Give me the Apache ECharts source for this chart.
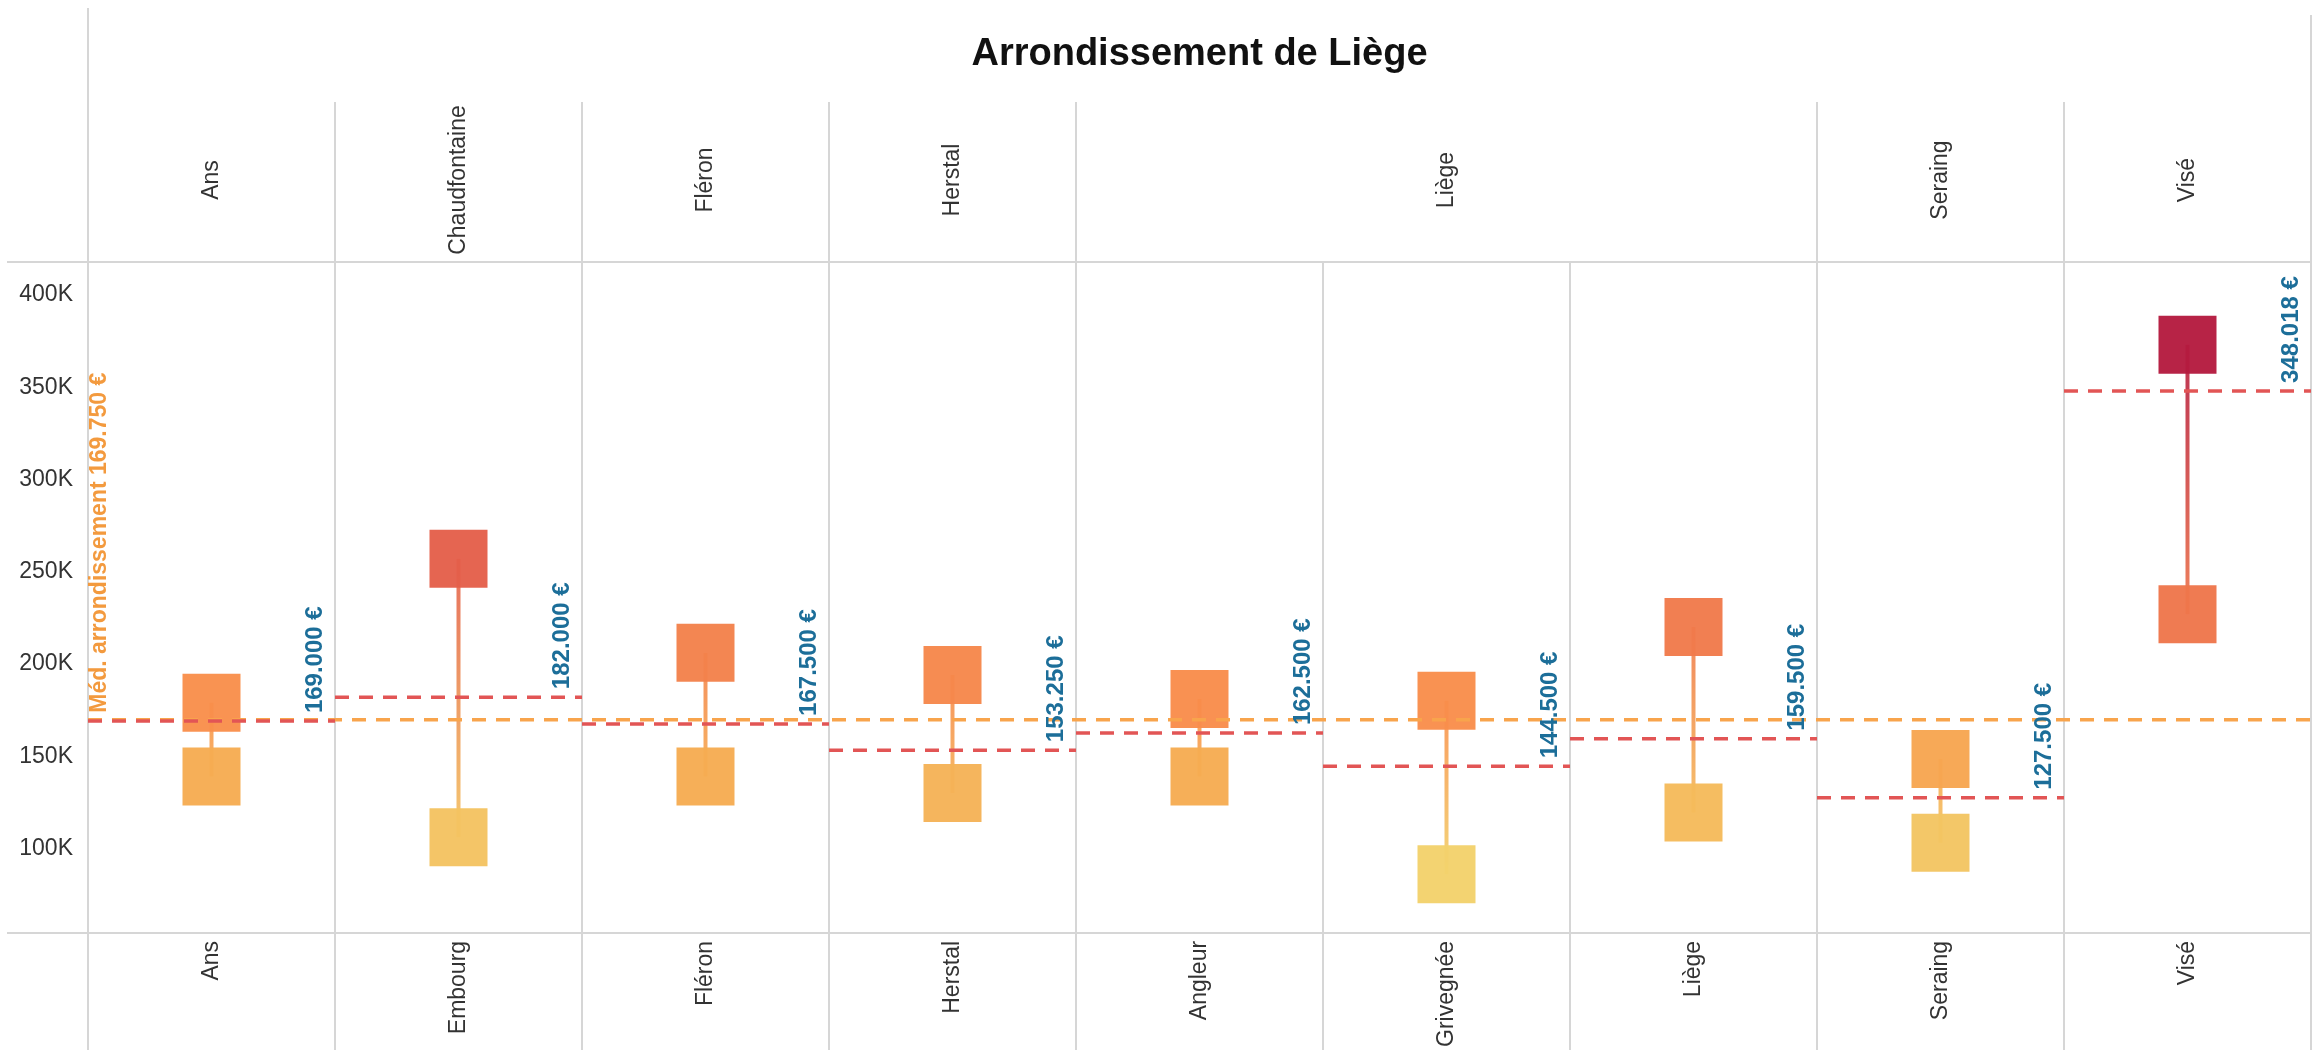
<!DOCTYPE html>
<html>
<head>
<meta charset="utf-8">
<script src="https://cdn.jsdelivr.net/npm/echarts@6/dist/echarts.min.js"></script>
<style>
html,body{margin:0;padding:0;background:#fff;}
#chart{width:2317px;height:1050px;}
</style>
</head>
<body>
<div id="chart"></div>
<script>
// ---------- DATA ----------
const communes = ['Ans', 'Embourg', 'Fléron', 'Herstal', 'Angleur', 'Grivegnée', 'Liège', 'Seraing', 'Visé'];
const groupNames = ['Ans', 'Chaudfontaine', 'Fléron', 'Herstal', 'Liège', 'Seraing', 'Visé'];
const groupSpans = [1, 1, 1, 1, 3, 1, 1];
const highValues = [179000, 257000, 206000, 194000, 181000, 180000, 220000, 148500, 373000];
const lowValues  = [139000, 106000, 139000, 130000, 139000, 86000, 119500, 103000, 227000];
const medianValues = [169000, 182000, 167500, 153250, 162500, 144500, 159500, 127500, 348018];
const overallMedian = 169750;
const chartTitle = 'Arrondissement de Liège';
const overallLabel = 'Méd. arrondissement';

// ---------- STYLE / LAYOUT ----------
const W = 2317, H = 1050;
const GRID = { left: 88, right: 6, top: 262, bottom: 117 };
const HEADER_TOP = 102;
const GRID_LINE = '#d6d6d6';
const colorStopValues = [85000, 140000, 180000, 225000, 260000, 375000];
const colorStopHex = ['#f2d26b', '#f6ab51', '#f98e4b', '#ef774b', '#e35d4a', '#b3193e'];

function hexToRgb(h) {
  const n = parseInt(h.slice(1), 16);
  return [(n >> 16) & 255, (n >> 8) & 255, n & 255];
}
function colorFor(v) {
  if (v <= colorStopValues[0]) return colorStopHex[0];
  for (let k = 1; k < colorStopValues.length; k++) {
    if (v <= colorStopValues[k]) {
      const t = (v - colorStopValues[k - 1]) / (colorStopValues[k] - colorStopValues[k - 1]);
      const a = hexToRgb(colorStopHex[k - 1]), b = hexToRgb(colorStopHex[k]);
      const c = a.map((x, j) => Math.round(x + (b[j] - x) * t));
      return 'rgb(' + c.join(',') + ')';
    }
  }
  return colorStopHex[colorStopHex.length - 1];
}
function fmtEuro(v) {
  return String(Math.round(v)).replace(/\B(?=(\d{3})+(?!\d))/g, '.') + ' €';
}

// build top header axis from groups
const topLabels = [];
const groupStarts = new Set();
let col = 0;
groupNames.forEach((g, gi) => {
  const span = groupSpans[gi];
  groupStarts.add(col);
  const centerIdx = Math.floor((span - 1) / 2);
  for (let s = 0; s < span; s++) {
    topLabels.push(s === centerIdx ? g : '\u200b'.repeat(col + s + 1));
  }
  col += span;
});

const chart = echarts.init(document.getElementById('chart'), null, { renderer: 'canvas' });

const option = {
  animation: false,
  backgroundColor: '#ffffff',
  title: {
    text: chartTitle,
    left: (GRID.left + (W - GRID.right)) / 2,
    top: 36,
    textAlign: 'center',
    padding: 0,
    textStyle: { fontFamily: 'Arial', fontSize: 38, fontWeight: 'bold', color: '#111' }
  },
  grid: { left: GRID.left, right: GRID.right, top: GRID.top, bottom: GRID.bottom, containLabel: false },
  xAxis: [
    {
      type: 'category',
      position: 'bottom',
      data: communes,
      boundaryGap: true,
      axisLine: { show: true, lineStyle: { color: GRID_LINE, width: 2 } },
      axisTick: { show: true, length: GRID.bottom, interval: 0, lineStyle: { color: GRID_LINE, width: 2 } },
      axisLabel: { interval: 0, rotate: 90, margin: 8, fontFamily: 'Arial', fontSize: 23, color: '#333' },
      splitLine: { show: true, interval: 0, lineStyle: { color: GRID_LINE, width: 2 } }
    },
    {
      type: 'category',
      position: 'top',
      data: topLabels,
      boundaryGap: true,
      axisLine: { show: true, lineStyle: { color: GRID_LINE, width: 2 } },
      axisTick: {
        show: true, length: GRID.top - HEADER_TOP,
        interval: function (idx) { return groupStarts.has(idx); },
        lineStyle: { color: GRID_LINE, width: 2 }
      },
      axisLabel: {
        interval: 0, rotate: -90, margin: (GRID.top - HEADER_TOP) / 2 + 2,
        align: 'center', verticalAlign: 'middle',
        fontFamily: 'Arial', fontSize: 23, color: '#333'
      },
      splitLine: { show: false }
    }
  ],
  yAxis: {
    type: 'value',
    min: 54200,
    max: 417900,
    splitNumber: 7,
    axisLine: { show: false },
    axisTick: { show: false },
    splitLine: { show: false },
    axisLabel: {
      showMinLabel: false, showMaxLabel: false,
      margin: 15, fontFamily: 'Arial', fontSize: 23, color: '#333',
      formatter: function (v) { return (v / 1000) + 'K'; }
    }
  },
  graphic: [
    { type: 'line', silent: true, shape: { x1: 7, y1: GRID.top, x2: GRID.left, y2: GRID.top }, style: { stroke: GRID_LINE, lineWidth: 2 } },
    { type: 'line', silent: true, shape: { x1: 7, y1: H - GRID.bottom, x2: GRID.left, y2: H - GRID.bottom }, style: { stroke: GRID_LINE, lineWidth: 2 } },
    { type: 'line', silent: true, shape: { x1: GRID.left, y1: 8, x2: GRID.left, y2: HEADER_TOP }, style: { stroke: GRID_LINE, lineWidth: 2 } },
    { type: 'line', silent: true, shape: { x1: W - GRID.right, y1: 15, x2: W - GRID.right, y2: HEADER_TOP }, style: { stroke: GRID_LINE, lineWidth: 2 } }
  ],
  series: [
    {
      name: 'connector',
      type: 'custom',
      xAxisIndex: 0, yAxisIndex: 0,
      z: 1,
      data: communes.map((c, i) => [i, highValues[i], lowValues[i]]),
      encode: { x: 0, y: [1, 2] },
      renderItem: function (params, api) {
        const i = api.value(0), hi = api.value(1), lo = api.value(2);
        const p1 = api.coord([i, hi]), p2 = api.coord([i, lo]);
        return {
          type: 'line',
          shape: { x1: p1[0], y1: p1[1], x2: p2[0], y2: p2[1] },
          style: {
            stroke: new echarts.graphic.LinearGradient(p1[0], p1[1], p2[0], p2[1], [
              { offset: 0, color: colorFor(hi) }, { offset: 1, color: colorFor(lo) }
            ], true),
            lineWidth: 4, opacity: 0.9
          }
        };
      }
    },
    {
      name: 'Max',
      type: 'scatter',
      xAxisIndex: 0, yAxisIndex: 0,
      z: 2,
      symbol: 'rect',
      symbolSize: 58,
      data: communes.map((c, i) => [i, highValues[i]]),
      itemStyle: { color: function (p) { return colorFor(p.value[1]); }, opacity: 0.96 }
    },
    {
      name: 'Min',
      type: 'scatter',
      xAxisIndex: 0, yAxisIndex: 0,
      z: 2,
      symbol: 'rect',
      symbolSize: 58,
      data: communes.map((c, i) => [i, lowValues[i]]),
      itemStyle: { color: function (p) { return colorFor(p.value[1]); }, opacity: 0.96 }
    },
    {
      name: 'overall',
      type: 'custom',
      xAxisIndex: 0, yAxisIndex: 0,
      z: 3,
      data: [[0, overallMedian]],
      encode: { x: 0, y: 1 },
      renderItem: function (params, api) {
        const v = api.value(1);
        const y = api.coord([0, v])[1];
        const cs = params.coordSys;
        return {
          type: 'group',
          children: [
            { type: 'line', shape: { x1: cs.x, y1: y, x2: cs.x + cs.width, y2: y },
              style: { stroke: '#f8a44c', lineWidth: 3.5, lineDash: [14, 10] } },
            { type: 'text', x: cs.x + 12, y: y - 7, rotation: Math.PI / 2,
              style: { text: overallLabel + ' ' + fmtEuro(v), fill: '#f39a3e', font: 'bold 23px Arial', align: 'left', verticalAlign: 'middle' } }
          ]
        };
      }
    },
    {
      name: 'median',
      type: 'custom',
      xAxisIndex: 0, yAxisIndex: 0,
      z: 4,
      data: communes.map((c, i) => [i, medianValues[i]]),
      encode: { x: 0, y: 1 },
      renderItem: function (params, api) {
        const i = api.value(0), m = api.value(1);
        const p = api.coord([i, m]);
        const w = api.size([1, 0])[0];
        return {
          type: 'group',
          children: [
            { type: 'line', shape: { x1: p[0] - w / 2, y1: p[1], x2: p[0] + w / 2, y2: p[1] },
              style: { stroke: '#e25555', lineWidth: 3.5, lineDash: [14, 10] } },
            { type: 'text', x: p[0] + w / 2 - 20, y: p[1] - 8, rotation: Math.PI / 2,
              style: { text: fmtEuro(m), fill: '#1c6e99', font: 'bold 24px Arial', align: 'left', verticalAlign: 'middle' } }
          ]
        };
      }
    }
  ]
};
chart.setOption(option);
</script>
</body>
</html>
